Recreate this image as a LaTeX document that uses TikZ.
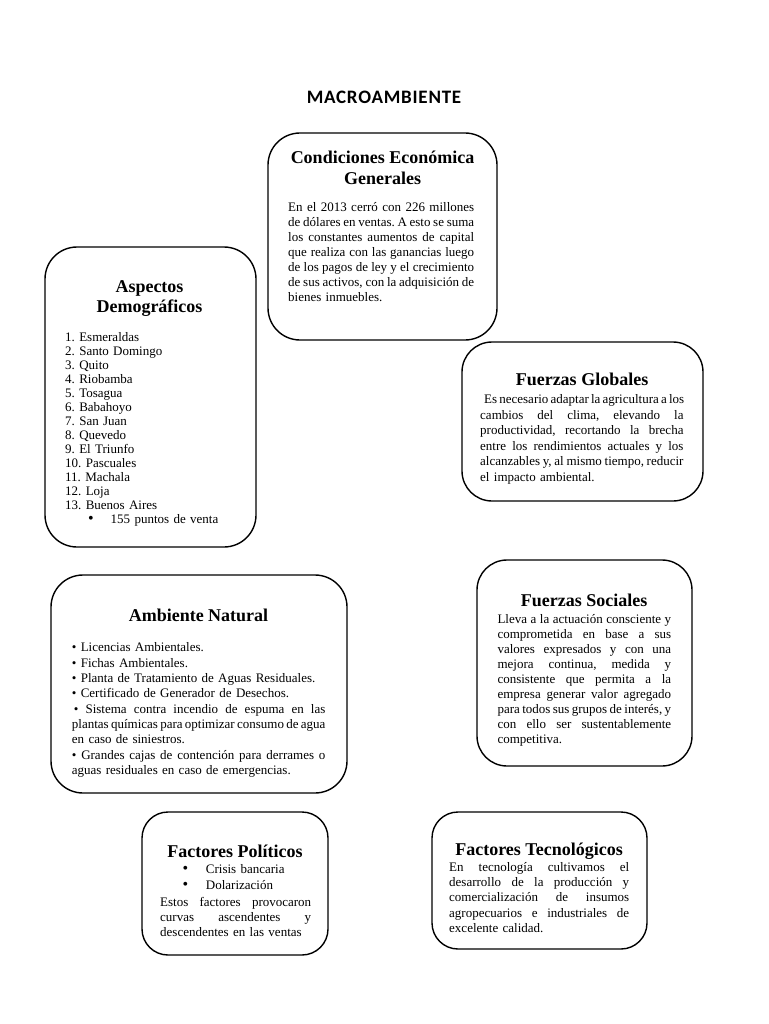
\documentclass[tikz,border=0pt]{standalone}
\usepackage{fontspec}
\setmainfont{Liberation Serif}
\newfontfamily\titlefont[LetterSpace=4]{Carlito}
\usetikzlibrary{fit}
\setlength\parindent{0pt}
\frenchspacing
\newcommand\jl[1]{\makebox[\hsize][s]{\spaceskip=0pt\xspaceskip=0pt #1}}
\newcommand\jw[2]{\makebox[#1][s]{\spaceskip=0pt\xspaceskip=0pt #2}}
\newcommand\bigbul{{\fontsize{16}{16}\selectfont •}}
\begin{document}
\begin{tikzpicture}[x=1pt,y=-1pt,
  cbox/.style={draw=black, line width=1.4pt, rounded corners=#1, inner sep=0pt},
  cbox/.default=30pt,
  hd/.style 2 args={anchor=north, inner sep=0pt, align=center, font={\bfseries\fontsize{18}{#2}\selectfont}},
  bd/.style 2 args={anchor=north west, inner sep=0pt, text width=#1, align=left, font={\fontsize{13}{#2}\selectfont}},
]
\useasboundingbox[fill=white] (0,0) rectangle (768,1024);

% title
\node[anchor=base, inner sep=0pt, font={\titlefont\bfseries\fontsize{19}{22}\selectfont}] (title) at (384,103.3) {MACROAMBIENTE};

% Condiciones Economica Generales
\node[cbox=32pt, fit={(268,133) (497,340)}] (econ) {};
\node[hd={}{20.5}] (econhd) at (382.5,149.15) {\strut Condiciones Económica\\Generales};
\node[bd={186pt}{15}] (econbd) at (288,200.5) {\strut
\jl{En el 2013 cerró con 226 millones}\\
\jl{de dólares en ventas. A esto se suma}\\
\jl{los constantes aumentos de capital}\\
\jl{que realiza con las ganancias luego}\\
\jl{de los pagos de ley y el crecimiento}\\
\jl{de sus activos, con la adquisición de}\\
bienes inmuebles.};

% Aspectos Demograficos
\node[cbox=32pt, fit={(45,247) (256,547)}] (demo) {};
\node[hd={}{20}] (demohd) at (149.5,278.7) {\strut Aspectos\\Demográficos};
\node[bd={180pt}{14}] (demobd) at (65,331.9) {\strut
1. Esmeraldas\\
2. Santo Domingo\\
3. Quito\\
4. Riobamba\\
5. Tosagua\\
6. Babahoyo\\
7. San Juan\\
8. Quevedo\\
9. El Triunfo\\
10. Pascuales\\
11. Machala\\
12. Loja\\
13. Buenos Aires\\
\hspace*{23pt}\makebox[22.5pt][l]{\bigbul}155 puntos de venta};

% Fuerzas Globales
\node[cbox=30pt, fit={(462,342) (703,501)}] (glob) {};
\node[hd={}{20.5}] (globhd) at (582,371.35) {\strut Fuerzas Globales};
\node[bd={203.3pt}{15.6}] (globbd) at (480,392.4) {\strut
\hspace*{4pt}\jw{199.3pt}{Es necesario adaptar la agricultura a los}\\
\jl{cambios del clima, elevando la}\\
\jl{productividad, recortando la brecha}\\
\jl{entre los rendimientos actuales y los}\\
\jl{alcanzables y, al mismo tiempo, reducir}\\
el impacto ambiental.};

% Ambiente Natural
\node[cbox=32pt, fit={(51,575) (347,793)}] (amb) {};
\node[hd={}{20.5}] (ambhd) at (198.5,607.35) {\strut Ambiente Natural};
\node[bd={253.5pt}{15.3}] (ambbd) at (71.7,641) {\strut
\mbox{• Licencias Ambientales.}\\
\mbox{• Fichas Ambientales.}\\
\mbox{• Planta de Tratamiento de Aguas Residuales.}\\
\mbox{• Certificado de Generador de Desechos.}\\
\jl{\hspace*{2pt}• Sistema contra incendio de espuma en las}\\
\jl{plantas químicas para optimizar consumo de agua}\\
en caso de siniestros.\\
\jl{• Grandes cajas de contención para derrames o}\\
aguas residuales en caso de emergencias.};

% Fuerzas Sociales
\node[cbox=30pt, fit={(477,560) (692,766)}] (soc) {};
\node[hd={}{20.5}] (sochd) at (584,592.35) {\strut Fuerzas Sociales};
\node[bd={173.7pt}{15}] (socbd) at (497.3,612.8) {\strut
\jl{Lleva a la actuación consciente y}\\
\jl{comprometida en base a sus}\\
\jl{valores expresados y con una}\\
\jl{mejora continua, medida y}\\
\jl{consistente que permita a la}\\
\jl{empresa generar valor agregado}\\
\jl{para todos sus grupos de interés, y}\\
\jl{con ello ser sustentablemente}\\
competitiva.};

% Factores Politicos
\node[cbox=26pt, fit={(142,812) (328,955)}] (pol) {};
\node[hd={}{20.5}] (polhd) at (235,843.35) {\strut Factores Políticos};
\node[bd={140pt}{15.7}] (polbul) at (182.5,862.3) {\strut
\makebox[23.2pt][l]{\bigbul}Crisis bancaria\\
\makebox[23.2pt][l]{\bigbul}Dolarización};
\node[bd={151pt}{15}] (polbd) at (160,896.2) {\strut
\jl{Estos factores provocaron}\\
\jl{curvas ascendentes y}\\
descendentes en las ventas};

% Factores Tecnologicos
\node[cbox=26pt, fit={(432,812) (647,949)}] (tec) {};
\node[hd={}{20.5}] (techd) at (539,840.65) {\strut Factores Tecnológicos};
\node[bd={180pt}{15.3}] (tecbd) at (449,860.3) {\strut
\jl{En tecnología cultivamos el}\\
\jl{desarrollo de la producción y}\\
\jl{comercialización de insumos}\\
\jl{agropecuarios e industriales de}\\
excelente calidad.};
\end{tikzpicture}
\end{document}
